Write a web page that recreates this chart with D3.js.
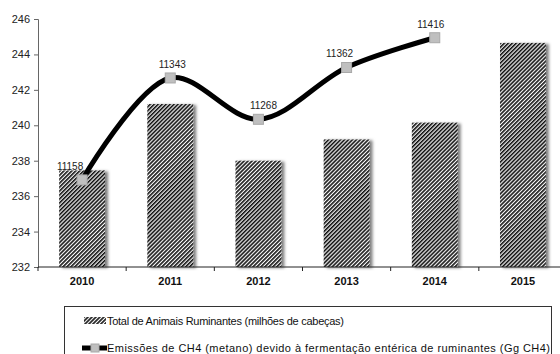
<!DOCTYPE html>
<html>
<head>
<meta charset="utf-8">
<script src="https://cdn.jsdelivr.net/npm/d3@7"></script>
<style>
  body { margin: 0; background: #fff; }
  svg { display: block; font-family: "Liberation Sans", Arial, sans-serif; }
</style>
</head>
<body>
<svg id="chart" width="560" height="354"></svg>
<script>
// data
var years = ["2010", "2011", "2012", "2013", "2014", "2015"];
var animais = [237.45, 241.2, 238.0, 239.2, 240.15, 244.65];   // milhões de cabeças
var emissoesYears = ["2010", "2011", "2012", "2013", "2014"];
var emissoes = [11158, 11343, 11268, 11362, 11416];            // Gg CH4
var yTicks = [232, 234, 236, 238, 240, 242, 244, 246];
var legendLabels = [
    "Total de Animais Ruminantes (milhões de cabeças)",
    "Emissões de CH4 (metano) devido à fermentação entérica de ruminantes (Gg CH4)"
];

var svg = d3.select("#chart");
var margin = {top: 19, left: 38, bottom: 267, right: 567};
// small nudges of the data labels, as placed in the original
var labelDx = [-12, 2, 5, -7, -4];
var legendWidths = [237, 443];

var defs = svg.append("defs");
defs.append("pattern")
    .attr("id", "hatch")
    .attr("patternUnits", "userSpaceOnUse")
    .attr("width", 2.8)
    .attr("height", 2.8)
    .attr("patternTransform", "rotate(45)")
    .call(function(p) {
        p.append("rect").attr("width", 2.8).attr("height", 2.8).attr("fill", "#fafafa");
        p.append("rect").attr("width", 1.6).attr("height", 2.8).attr("fill", "#111");
    });
defs.append("filter")
    .attr("id", "shadow")
    .attr("x", "-20%").attr("y", "-10%").attr("width", "150%").attr("height", "120%")
    .append("feDropShadow")
    .attr("dx", 3).attr("dy", 1).attr("stdDeviation", 1.4)
    .attr("flood-color", "#000").attr("flood-opacity", 0.5);

var x = d3.scaleBand()
    .domain(years)
    .range([margin.left, margin.right])
    .paddingInner(0.48)
    .paddingOuter(0.24);

var y = d3.scaleLinear().domain([232, 246]).range([margin.bottom, margin.top]);
var y2 = d3.scaleLinear().domain([11000, 11450]).range([margin.bottom, margin.top]);

// bars
svg.append("g")
    .selectAll("rect")
    .data(animais)
    .join("rect")
    .attr("x", function(d, i) { return x(years[i]); })
    .attr("y", function(d) { return y(d); })
    .attr("width", x.bandwidth())
    .attr("height", function(d) { return y(232) - y(d); })
    .attr("fill", "url(#hatch)")
    .attr("filter", "url(#shadow)");

// y axis
var yAxis = svg.append("g")
    .attr("transform", "translate(" + margin.left + ",0)")
    .call(d3.axisLeft(y).tickValues(yTicks).tickSize(4).tickPadding(4).tickFormat(d3.format("d")));
yAxis.select(".domain").attr("stroke", "#666");
yAxis.selectAll(".tick line").attr("stroke", "#666");
yAxis.selectAll("text").attr("font-size", 11).attr("fill", "#222").attr("font-family", null);

// x axis: labels centred, ticks on band boundaries
var xAxis = svg.append("g")
    .attr("transform", "translate(0," + margin.bottom + ")")
    .call(d3.axisBottom(x).tickSize(0).tickPadding(10));
xAxis.select(".domain").attr("stroke", "#222").attr("d", "M" + margin.left + ",0H" + margin.right);
xAxis.selectAll("text").attr("font-size", 11).attr("font-weight", "bold")
    .attr("fill", "#111").attr("font-family", null);
xAxis.selectAll(".boundary")
    .data(years)
    .join("line")
    .attr("class", "boundary")
    .attr("x1", function(d) { return x(d) - x.step() * x.paddingOuter(); })
    .attr("x2", function(d) { return x(d) - x.step() * x.paddingOuter(); })
    .attr("y1", 0).attr("y2", 4)
    .attr("stroke", "#222");

// emissions line
var cx = function(d, i) { return x(emissoesYears[i]) + x.bandwidth() / 2; };
var line = d3.line()
    .x(cx)
    .y(function(d) { return y2(d); })
    .curve(d3.curveCatmullRom.alpha(0.5));

svg.append("path")
    .datum(emissoes)
    .attr("d", line)
    .attr("fill", "none")
    .attr("stroke", "#000")
    .attr("stroke-width", 5);

svg.append("g")
    .selectAll("rect")
    .data(emissoes)
    .join("rect")
    .attr("x", function(d, i) { return cx(d, i) - 5; })
    .attr("y", function(d) { return y2(d) - 5; })
    .attr("width", 10).attr("height", 10)
    .attr("fill", "#bfbfbf")
    .attr("stroke", "#a8a8a8");

svg.append("g")
    .selectAll("text")
    .data(emissoes)
    .join("text")
    .attr("x", function(d, i) { return cx(d, i) + labelDx[i]; })
    .attr("y", function(d) { return y2(d) - 10; })
    .attr("text-anchor", "middle")
    .attr("font-size", 10)
    .attr("fill", "#222")
    .text(function(d) { return d; });

// legend
var legend = svg.append("g");
legend.append("rect")
    .attr("x", 64.5).attr("y", 306.5)
    .attr("width", 487).attr("height", 70)
    .attr("fill", "#fff").attr("stroke", "#333");

legend.append("rect")
    .attr("x", 84).attr("y", 317)
    .attr("width", 22).attr("height", 7)
    .attr("fill", "url(#hatch)");
legend.append("line")
    .attr("x1", 82).attr("x2", 107)
    .attr("y1", 348).attr("y2", 348)
    .attr("stroke", "#000").attr("stroke-width", 5);
legend.append("rect")
    .attr("x", 91).attr("y", 344)
    .attr("width", 8).attr("height", 8)
    .attr("fill", "#bfbfbf").attr("stroke", "#a8a8a8");

legend.selectAll(".ltext")
    .data(legendLabels)
    .join("text")
    .attr("class", "ltext")
    .attr("x", 107)
    .attr("y", function(d, i) { return 325 + i * 27; })
    .attr("font-size", 11)
    .attr("textLength", function(d, i) { return legendWidths[i]; })
    .attr("lengthAdjust", "spacing")
    .attr("fill", "#111")
    .text(function(d) { return d; });
</script>
</body>
</html>
